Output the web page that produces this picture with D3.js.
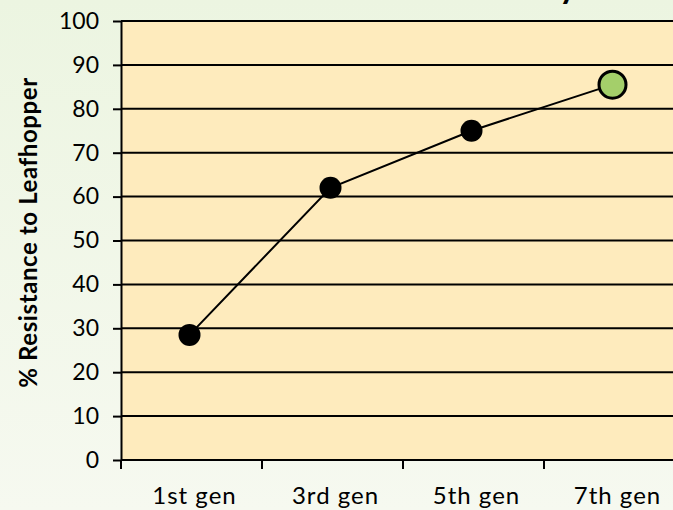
<!DOCTYPE html>
<html>
<head>
<meta charset="utf-8">
<script src="https://cdn.jsdelivr.net/npm/d3@7"></script>
<style>
  html, body { margin: 0; padding: 0; }
  body { width: 673px; height: 510px; overflow: hidden; }
  svg { display: block; }
  text { font-family: Futura, "Century Gothic", Lato, "DejaVu Sans", sans-serif; fill: #000; }
</style>
</head>
<body>
<svg id="chart" width="673" height="510"></svg>
<script>
// Generations sampled and the resistance measured in each
const generations = ["1st gen", "3rd gen", "5th gen", "7th gen"];
const resistance = [28.5, 62, 75, 85.5];
const yTicks = [0, 10, 20, 30, 40, 50, 60, 70, 80, 90, 100];
const yTitle = "% Resistance to Leafhopper";

(function () {
const W = 673, H = 510;
const svg = d3.select("#chart");

// soft green page background
const defs = svg.append("defs");
const grad = defs.append("linearGradient").attr("id", "bg")
  .attr("x1", 0).attr("y1", 0).attr("x2", 0).attr("y2", 1);
grad.append("stop").attr("offset", 0).attr("stop-color", "#ecf5e1");
grad.append("stop").attr("offset", 1).attr("stop-color", "#f6f9f0");
svg.append("rect").attr("width", W).attr("height", H).attr("fill", "url(#bg)");

// heading runs off the top edge; only its last descender shows
svg.append("text")
  .attr("x", 559).attr("y", -2)
  .attr("font-family", "'DejaVu Sans', sans-serif")
  .attr("font-size", 34).attr("font-weight", "bold")
  .text("y");

const plotL = 121, plotT = 21, plotB = 460, plotR = 685;

const x = d3.scaleBand().domain(generations).range([plotL, plotR]).paddingInner(0).paddingOuter(0);
const y = d3.scaleLinear().domain([0, 100]).range([plotB, plotT]);

// plot area
svg.append("rect")
  .attr("x", plotL).attr("y", plotT)
  .attr("width", plotR - plotL).attr("height", plotB - plotT)
  .attr("fill", "#feebbd");

// horizontal grid lines
svg.append("g").selectAll("line").data(yTicks.filter(d => d > 0)).join("line")
  .attr("x1", plotL).attr("x2", plotR)
  .attr("y1", d => y(d)).attr("y2", d => y(d))
  .attr("stroke", "#000").attr("stroke-width", 2);

// y axis
const yAxis = svg.append("g").attr("transform", `translate(${plotL},0)`)
  .call(d3.axisLeft(y).tickValues(yTicks).tickSize(8).tickPadding(14).tickSizeOuter(0));
yAxis.select(".domain").attr("stroke", "#000").attr("stroke-width", 2);
yAxis.selectAll(".tick line").attr("stroke", "#000").attr("stroke-width", 2);
yAxis.selectAll(".tick text").attr("font-size", 23).attr("font-family", null);

// x axis with ticks between categories
const xAxisG = svg.append("g").attr("transform", `translate(0,${plotB})`);
xAxisG.append("line").attr("x1", plotL).attr("x2", plotR).attr("y1", 0).attr("y2", 0)
  .attr("stroke", "#000").attr("stroke-width", 2);
const bounds = generations.map(g => x(g)).concat([x(generations[generations.length - 1]) + x.bandwidth()]);
xAxisG.selectAll("line.tk").data(bounds).join("line").attr("class", "tk")
  .attr("x1", d => d).attr("x2", d => d).attr("y1", 0).attr("y2", 9)
  .attr("stroke", "#000").attr("stroke-width", 2);
xAxisG.selectAll("text").data(generations).join("text")
  .attr("x", d => x(d) + x.bandwidth() / 2 + 3)
  .attr("y", 44)
  .attr("text-anchor", "middle")
  .attr("font-size", 24)
  .attr("letter-spacing", 1)
  .text(d => d);

// y axis title
svg.append("text")
  .attr("transform", `translate(37,${(plotT + plotB) / 2 - 8}) rotate(-90)`)
  .attr("text-anchor", "middle")
  .attr("font-size", 24).attr("font-weight", "bold")
  .attr("letter-spacing", 0.6)
  .text(yTitle);

// series line and markers
const pts = generations.map((g, i) => ({ g, v: resistance[i], last: i === generations.length - 1 }));
svg.append("path")
  .datum(pts)
  .attr("fill", "none").attr("stroke", "#000").attr("stroke-width", 2)
  .attr("d", d3.line().x(d => x(d.g) + x.bandwidth() / 2 - 2).y(d => y(d.v)));

svg.append("g").selectAll("circle").data(pts).join("circle")
  .attr("cx", d => x(d.g) + x.bandwidth() / 2 - 2)
  .attr("cy", d => y(d.v))
  .attr("r", d => d.last ? 13.5 : 11)
  .attr("fill", d => d.last ? "#a4cf6a" : "#000")
  .attr("stroke", "#000")
  .attr("stroke-width", d => d.last ? 3 : 0);
})();
</script>
</body>
</html>
